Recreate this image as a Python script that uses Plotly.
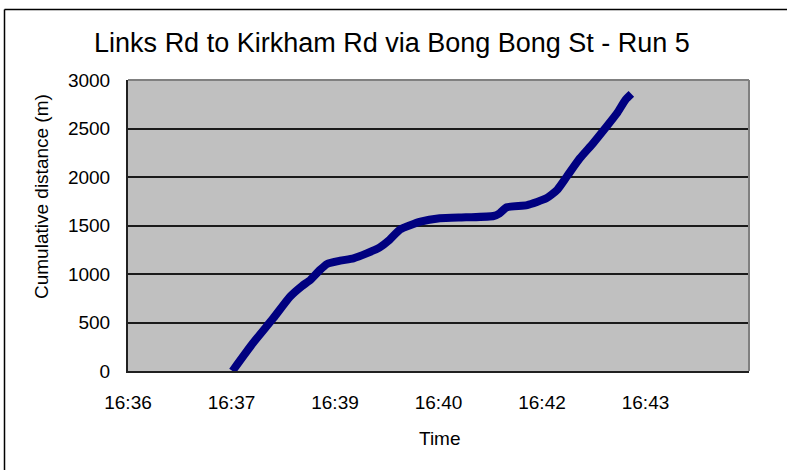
import plotly.graph_objects as go

# ---- data ----
times = ["16:37:56", "16:38:13", "16:38:30", "16:38:44", "16:38:54", "16:39:01",
         "16:39:09", "16:39:15", "16:39:26", "16:39:37", "16:39:48", "16:39:59",
         "16:40:07", "16:40:16", "16:40:33", "16:40:49", "16:41:11", "16:41:34",
         "16:41:39", "16:41:45", "16:42:02", "16:42:18", "16:42:27", "16:42:35",
         "16:42:46", "16:42:57", "16:43:07", "16:43:17", "16:43:24", "16:43:29"]
distance = [0, 286, 543, 766, 876, 938,
            1041, 1103, 1137, 1162, 1213, 1275,
            1350, 1460, 1539, 1574, 1584, 1598,
            1626, 1688, 1711, 1780, 1866, 2003,
            2193, 2347, 2500, 2657, 2794, 2856]

tick_vals = ["16:36:28.8", "16:37:55.2", "16:39:21.6", "16:40:48", "16:42:14.4", "16:43:40.8"]
tick_text = ["16:36", "16:37", "16:39", "16:40", "16:42", "16:43"]
x_range = ["16:36:28.8", "16:45:07.2"]

DAY = "2000-01-01 "
FONT = "Arial, Liberation Sans, sans-serif"

fig = go.Figure()
fig.add_trace(go.Scatter(
    x=[DAY + t for t in times], y=distance, mode="lines",
    line=dict(color="#000080", width=8, shape="spline", smoothing=0.5),
    showlegend=False, hoverinfo="skip"))

fig.update_layout(
    width=787, height=470,
    margin=dict(l=128, r=38, t=80, b=99),
    paper_bgcolor="white", plot_bgcolor="#C0C0C0",
    font=dict(family=FONT, size=19, color="black"),
    title=dict(text="Links Rd to Kirkham Rd via Bong Bong St - Run 5",
               font=dict(family=FONT, size=27, color="black"),
               x=392/787, xref="container", xanchor="center",
               y=1-43/470, yref="container", yanchor="middle"),
    xaxis=dict(type="date", range=[DAY + r for r in x_range],
               tickvals=[DAY + v for v in tick_vals], ticktext=tick_text,
               showgrid=False, zeroline=False, showline=True,
               linecolor="#202020", linewidth=2, ticks="",
               ticklabelstandoff=13, tickfont=dict(size=19)),
    yaxis=dict(range=[0, 3000], dtick=500, tick0=0,
               showgrid=True, gridcolor="#1a1a1a", gridwidth=1.5,
               zeroline=False, showline=True, linecolor="#202020", linewidth=2,
               ticks="", ticklabelstandoff=12, tickfont=dict(size=19)),
)

# plot area top/right border (gray)
fig.add_shape(type="line", xref="paper", yref="paper", x0=0, x1=1, y0=1, y1=1,
              line=dict(color="#808080", width=2), layer="above")
fig.add_shape(type="line", xref="paper", yref="paper", x0=1, x1=1, y0=0, y1=1,
              line=dict(color="#808080", width=2), layer="above")
# chart outer border (top and left visible)
fig.add_shape(type="line", xref="paper", yref="paper",
              x0=(4.5-128)/621, x1=(790-128)/621, y0=(371-9.5)/291, y1=(371-9.5)/291,
              line=dict(color="black", width=1.5))
fig.add_shape(type="line", xref="paper", yref="paper",
              x0=(4.5-128)/621, x1=(4.5-128)/621, y0=(371-9.5)/291, y1=(371-475)/291,
              line=dict(color="black", width=1.5))

fig.add_annotation(text="Cumulative distance (m)", textangle=-90,
                   xref="paper", yref="paper", x=(41-128)/621, y=(371-196)/291,
                   showarrow=False, font=dict(family=FONT, size=19, color="black"),
                   xanchor="center", yanchor="middle")
fig.add_annotation(text="Time", xref="paper", yref="paper",
                   x=(440-128)/621, y=(371-438)/291, showarrow=False,
                   font=dict(family=FONT, size=19, color="black"),
                   xanchor="center", yanchor="middle")

fig.write_html("out.html", config={"displayModeBar": False},
               post_script="document.body.style.margin='0';document.body.style.overflow='hidden';")
